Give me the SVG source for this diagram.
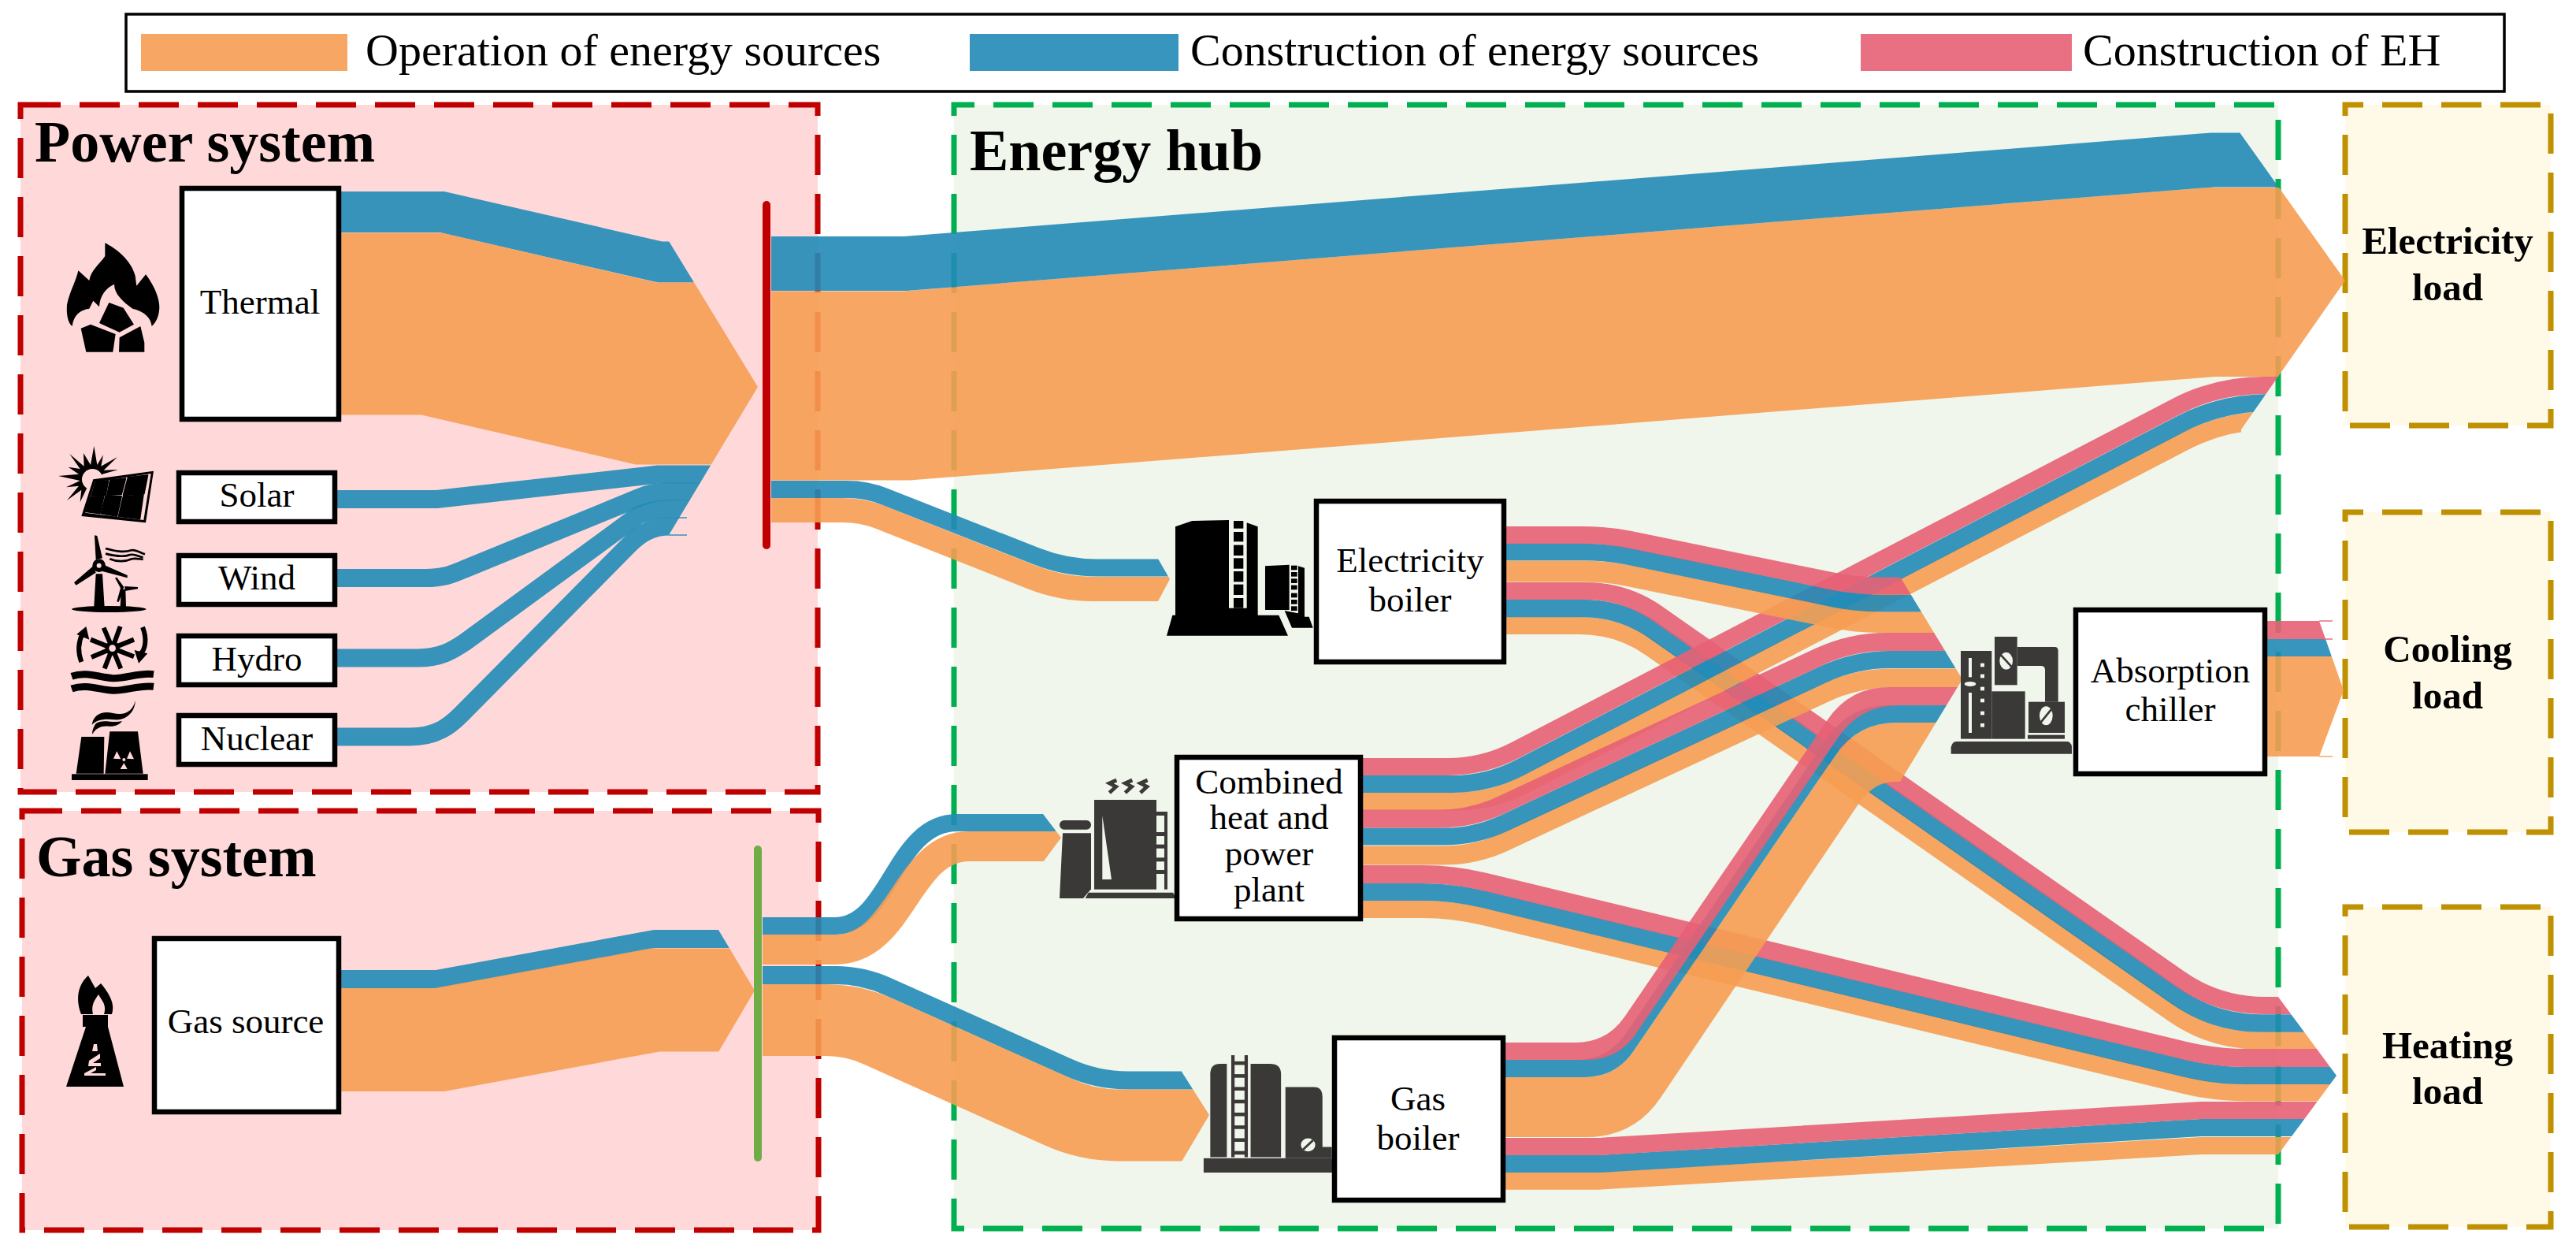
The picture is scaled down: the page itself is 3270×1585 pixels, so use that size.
<svg xmlns="http://www.w3.org/2000/svg" width="3270" height="1585" viewBox="0 0 3270 1585">
<style>
text{font-family:"Liberation Serif","Times New Roman",serif;fill:#000}
.lg{font-size:58px}.n{font-size:45px;text-anchor:middle}.t{font-size:74px;font-weight:bold}.l{font-size:49px;font-weight:bold;text-anchor:middle}
.reg{stroke-width:7;stroke-dasharray:51 24}
.p{fill:#FFD9D9;stroke:#C00000}.h{fill:#F0F6EB;stroke:#00B050;stroke-dashoffset:25}.c{fill:#FFF9E8;stroke:#BF9000;stroke-dashoffset:28}
.box{fill:#fff;stroke:#000;stroke-width:6.5}
.f path,.f polyline{fill:none;opacity:.9}
.or{stroke:#F69D52}.bl{stroke:#228BB7}.pk{stroke:#E76074}
path.fo{fill:#F69D52!important;stroke:none}path.fb{fill:#228BB7!important;stroke:none}path.fp{fill:#E76074!important;stroke:none}
.sw{opacity:.9}
</style>
<defs>
<clipPath id="cPow"><polygon points="0,0 849,0 849,306 962,491 849,679 849,1585 0,1585"/></clipPath>
<clipPath id="cGas"><polygon points="0,0 912,0 912,1180 958,1257 912,1335 912,1585 0,1585"/></clipPath>
<clipPath id="cEB"><polygon points="0,0 1470,0 1470,709 1485,735 1470,763 1470,1585 0,1585"/></clipPath>
<clipPath id="cCHP"><polygon points="0,0 1324,0 1324,1033 1347,1063 1324,1094 1324,1585 0,1585"/></clipPath>
<clipPath id="cGB"><polygon points="0,0 1500,0 1500,1360 1535,1415 1500,1474 1500,1585 0,1585"/></clipPath>
<clipPath id="cEl"><polygon points="0,0 2843,0 2843,168 2977,356 2845,545 2845,1585 0,1585"/></clipPath>
<clipPath id="cAC"><polygon points="0,0 2412,0 2412,732 2491,862 2412,992 2412,1585 0,1585"/></clipPath>
<clipPath id="cCo"><polygon points="0,0 2944,0 2944,788 2975,876 2944,960 2944,1585 0,1585"/></clipPath>
<clipPath id="cHe"><polygon points="0,0 2892,0 2892,1265 2966,1365 2892,1465 2892,1585 0,1585"/></clipPath>
</defs>
<rect width="3270" height="1585" fill="#fff"/>
<g id="legend">
<rect x="160" y="18" width="3019" height="98" fill="#fff" stroke="#000" stroke-width="3.5"/>
<rect class="sw" x="179" y="43" width="262" height="47" fill="#F69D52"/>
<text class="lg" x="464" y="83">Operation of energy sources</text>
<rect class="sw" x="1231" y="43" width="265" height="47" fill="#228BB7"/>
<text class="lg" x="1511" y="83">Construction of energy sources</text>
<rect class="sw" x="2362" y="43" width="268" height="47" fill="#E76074"/>
<text class="lg" x="2644" y="83">Construction of EH</text>
</g>
<g id="regions">
<rect class="reg p" x="26" y="133" width="1012" height="872"/>
<rect class="reg p" x="28" y="1029" width="1011" height="532"/>
<rect class="reg h" x="1211" y="133" width="1681" height="1426"/>
<rect class="reg c" x="2977" y="133" width="261" height="407"/>
<rect class="reg c" x="2977" y="650" width="261" height="406"/>
<rect class="reg c" x="2977" y="1151" width="261" height="406"/>
<text class="t" x="44" y="205">Power system</text>
<text class="t" x="46" y="1112">Gas system</text>
<text class="t" x="1231" y="216">Energy hub</text>
</g>
<g id="connectors" class="f" stroke-linejoin="miter">
<g clip-path="url(#cPow)">
<path class="bl" stroke-width="52" d="M433,269 L561,269 L838,332.5 L1000,332.5"/>
<path class="or" stroke-width="231" d="M433,411 L548,411 L820,474 L1000,474"/>
<path class="bl" stroke-width="23" d="M428,633.5 L555,633.5 L835,602 L1000,602"/>
<path class="bl" stroke-width="23" d="M428,733.5 L540,733.5 C565,733.5 575,728 590,722 L810,632 C820,628 830,624 850,624 L1000,624"/>
<path class="bl" stroke-width="23" d="M428,835 L530,835 C560,835 575,825 590,815 L810,654 C820,650 830,646 850,646 L1000,646"/>
<path class="bl" stroke-width="23" d="M428,935 L520,935 C555,935 572,920 585,907 L800,690 C815,675 830,668 850,668 L1000,668"/>
</g>
<g clip-path="url(#cEl)">
<path class="or" stroke-width="240" d="M979,489.5 L1150,489.5 L2808,358 L3000,358"/>
<path class="bl" stroke-width="69" d="M979,334.5 L1150,334.5 L2808,203 L3000,203"/>
</g>
<g clip-path="url(#cEB)">
<path class="bl" stroke-width="22" d="M979,621 L1075,621 Q1100,621 1123,630.2 L1316,706 Q1353,720.5 1393,720.5 L1490,720.5"/>
<path class="or" stroke-width="31" d="M979,647.5 L1070,647.5 Q1095,647.5 1118,656.7 L1311,733 Q1348,747.5 1388,747.5 L1490,747.5"/>
</g>
<g clip-path="url(#cGas)">
<path class="bl" stroke-width="23" d="M433,1242.5 L554,1242.5 L831,1191.5 L1000,1191.5"/>
<path class="or" stroke-width="131" d="M433,1319.5 L558,1319.5 L831,1269 L1000,1269"/>
</g>
<g clip-path="url(#cCHP)">
<path class="bl" stroke-width="22" d="M968,1175 L1060,1175 C1130,1175 1135,1044 1215,1044 L1340,1044"/>
<path class="or" stroke-width="38" d="M968,1205 L1060,1205 C1145,1205 1150,1074 1230,1074 L1350,1074"/>
</g>
<g clip-path="url(#cGB)">
<path class="bl" stroke-width="23" d="M968,1237.5 L1060,1237.5 Q1095,1237.5 1127,1251.9 L1356,1354.6 Q1392,1371 1432,1371 L1540,1371"/>
<path class="or" stroke-width="91" d="M968,1294.5 L1048,1294.5 Q1083,1294.5 1115,1308.9 L1344,1411.6 Q1380,1428 1420,1428 L1540,1428"/>
</g>
<g clip-path="url(#cHe)">
<path class="or" stroke-width="22" d="M1912,794 L2005,794 Q2055,794 2096,822.7 L2758,1286.1 Q2807,1320.5 2867,1320.5 L2950,1320.5"/>
<path class="bl" stroke-width="22.5" d="M1912,772 L2009,772 Q2059,772 2100,800.7 L2762,1264.1 Q2811,1298.5 2871,1298.5 L2950,1298.5"/>
<path class="pk" stroke-width="22" d="M1912,750 L2013,750 Q2063,750 2104,778.7 L2766,1241.6 Q2815,1276 2875,1276 L2950,1276"/>
<path class="or" stroke-width="22" d="M1730,1154 L1805,1154 Q1845,1154 1884,1163.4 L2773,1377 Q2812,1386.5 2852,1386.5 L2970,1386.5"/>
<path class="bl" stroke-width="22" d="M1730,1132 L1805,1132 Q1845,1132 1884,1141.4 L2773,1355.6 Q2812,1365 2852,1365 L2970,1365"/>
<path class="pk" stroke-width="23" d="M1730,1109.5 L1805,1109.5 Q1845,1109.5 1884,1118.9 L2773,1333.1 Q2812,1342.5 2852,1342.5 L2970,1342.5"/>
<polyline class="or" stroke-width="22" points="1911,1498.7 2030,1498.7 2794,1454 2950,1454"/>
<polyline class="bl" stroke-width="22" points="1911,1477 2030,1477 2794,1431 2950,1431"/>
<polyline class="pk" stroke-width="22" points="1911,1455 2030,1455 2794,1409 2950,1409"/>
</g>
<g clip-path="url(#cEl)">
<path class="or" stroke-width="23" d="M1730,1017 L1849,1017 Q1894,1017 1934,996.3 L2771,561.2 Q2824,533.5 2884,533.5 L2950,533.5"/>
<path class="bl" stroke-width="22" d="M1730,995 L1844,995 Q1889,995 1929,974.3 L2767,538.7 Q2820,511 2880,511 L2950,511"/>
<path class="pk" stroke-width="22" d="M1730,973 L1838,973 Q1883,973 1923,952.3 L2761,516.7 Q2814,489 2874,489 L2950,489"/>
</g>
<g clip-path="url(#cAC)">
<path class="or" stroke-width="27" d="M1912,725 L2010,725 Q2040,725 2069,730.9 L2327,783.6 Q2356,789.5 2386,789.5 L2500,789.5"/>
<path class="bl" stroke-width="21.5" d="M1912,700.5 L2010,700.5 Q2040,700.5 2069,706.4 L2327,759.6 Q2356,765.5 2386,765.5 L2500,765.5"/>
<path class="pk" stroke-width="22" d="M1912,679 L2010,679 Q2040,679 2069,684.9 L2327,737.6 Q2356,743.5 2386,743.5 L2500,743.5"/>
<path class="or" stroke-width="24" d="M1730,1085.5 L1833,1085.5 Q1873,1085.5 1909.3,1068.6 L2316,879.5 Q2357,860.5 2402,860.5 L2500,860.5"/>
<path class="bl" stroke-width="22" d="M1730,1061.5 L1833,1061.5 Q1873,1061.5 1909.3,1044.6 L2314,856 Q2355,837 2400,837 L2500,837"/>
<path class="pk" stroke-width="23" d="M1730,1039 L1828,1039 Q1868,1039 1904.3,1022.1 L2309,833.5 Q2350,814.5 2395,814.5 L2500,814.5"/>
<path class="fo" d="M1911,1367 L2011,1367 Q2051,1367 2073.5,1334 L2330,958.3 Q2358,917 2408,917 L2500,917 L2500,992 L2405,992 Q2378,992 2358,1022 L2108,1393 Q2074,1443 2014,1443 L1911,1443 Z"/>
<path class="fb" d="M1911,1345 L2001,1345 Q2041,1345 2063.5,1312 L2320,936.3 Q2348,895 2398,895 L2500,895 L2500,917 L2408,917 Q2358,917 2330,958.3 L2073.5,1334 Q2051,1367 2011,1367 L1911,1367 Z"/>
<path class="fp" d="M1911,1323 L2000,1323 Q2040,1323 2062.5,1290 L2320,913.3 Q2348,872 2398,872 L2500,872 L2500,895 L2411,895 Q2361,895 2333,936.3 L2076.5,1312 Q2054,1345 2014,1345 L1911,1345 Z"/>
</g>
<g clip-path="url(#cCo)">
<path class="or" stroke-width="127" d="M2877,896.5 L3000,896.5"/>
<path class="bl" stroke-width="22" d="M2877,822 L3000,822"/>
<path class="pk" stroke-width="23" d="M2877,799.5 L3000,799.5"/>
</g>
<path class="bl" stroke-width="1.5" d="M860,657 L872,657 M849,679 L872,679"/>
<path class="pk" stroke-width="1.5" d="M2944,788 L2961,788 M2948,811 L2961,811"/>
<path class="or" stroke-width="1.5" d="M2944,960 L2961,960"/>
</g>
<line id="power-bus" x1="973" y1="260" x2="973" y2="692" stroke="#C00000" stroke-width="10" stroke-linecap="round"/>
<line id="gas-bus" x1="962" y1="1078" x2="962" y2="1469" stroke="#70AD47" stroke-width="10" stroke-linecap="round"/>

<g id="thermal">
<g transform="translate(60,300) scale(.3333)" fill="#000">
<path d="M220,25 C260,45 320,90 335,150 L340,188 L375,145 C410,190 435,250 425,290 C420,320 405,335 398,342 C395,310 370,285 325,275 C290,250 255,220 255,182 C225,195 200,225 198,268 L175,245 L160,275 C125,280 100,300 95,342 C80,330 72,300 75,260 C85,210 110,170 118,130 L160,168 C165,130 200,105 220,75 Z"/>
<polygon points="235,252 290,272 330,335 275,365 198,330"/>
<polygon points="128,350 165,335 260,372 250,440 148,440"/>
<polygon points="275,385 355,342 370,405 370,440 273,440"/>
</g>
<rect class="box" x="231" y="239" width="199" height="293"/><text class="n" x="330" y="398">Thermal</text></g>
<g id="solar">
<g transform="translate(60,300) scale(.3333)">
<polygon fill="#000" points="178,798 190,870 213,832 205,875 267,840 215,890 270,888 210,905 170,960 150,960 125,1012 130,965 75,1005 120,950 72,955 125,930 42,912 120,905 80,878 125,885 85,828 140,875 138,825 165,870"/>
<circle cx="172" cy="925" r="40" fill="#FFD9D9"/>
<polygon fill="#FFD9D9" points="165,920 412,885 382,1098 122,1072"/>
<polygon fill="#000" points="175,925 405,893 375,1090 130,1065"/>
<polygon fill="#FFD9D9" points="182,935 395,903 367,1080 145,1052"/>
<g fill="#000" stroke="#000" stroke-width="6" stroke-linejoin="round">
<polygon points="185,935 232,930 222,985 168,990"/><polygon points="240,928 298,922 282,982 228,985"/><polygon points="308,918 382,910 368,980 290,985"/>
<polygon points="165,995 215,990 200,1055 148,1048"/><polygon points="222,990 282,990 265,1065 205,1055"/><polygon points="290,990 365,985 352,1075 272,1065"/>
</g></g>
<rect class="box" x="227" y="600" width="198" height="62"/><text class="n" x="326" y="643">Solar</text></g>
<g id="wind">
<g transform="translate(80,670) scale(.3333)" fill="#000">
<polygon points="125,175 150,175 158,300 118,300"/>
<polygon points="120,28 130,30 150,115 125,120"/><polygon points="115,145 125,170 50,218 42,208"/><polygon points="155,140 245,180 245,190 150,165"/>
<circle cx="137" cy="143" r="25"/><circle cx="137" cy="143" r="9" fill="#FFD9D9"/>
<ellipse cx="175" cy="309" rx="142" ry="12"/>
<polygon points="222,235 238,235 240,300 218,300"/><polygon points="198,190 205,188 232,225 225,240"/><polygon points="205,280 212,282 232,235 220,225"/><polygon points="235,222 285,225 285,232 235,240"/>
<g fill="none" stroke="#000" stroke-width="8"><path d="M162,78 C200,88 230,95 260,85 C275,80 295,95 312,100"/><path d="M162,98 C200,108 230,112 255,102 C275,98 285,108 305,112"/><path d="M178,118 C205,130 240,128 262,118 C275,114 290,118 305,120"/></g>
</g>
<rect class="box" x="227" y="705" width="198" height="62"/><text class="n" x="326" y="748">Wind</text></g>
<g id="hydro">
<g transform="translate(80,670) scale(.3333)">
<g stroke="#000" stroke-width="18"><line x1="188" y1="458" x2="155" y2="380"/><line x1="188" y1="458" x2="218" y2="375"/><line x1="188" y1="458" x2="270" y2="425"/><line x1="188" y1="458" x2="270" y2="490"/><line x1="188" y1="458" x2="220" y2="535"/><line x1="188" y1="458" x2="158" y2="535"/><line x1="188" y1="458" x2="108" y2="492"/><line x1="188" y1="458" x2="105" y2="425"/></g>
<circle cx="188" cy="458" r="27" fill="#000"/><circle cx="188" cy="458" r="13" fill="#FFD9D9"/>
<path d="M70,510 C55,470 60,430 75,400" fill="none" stroke="#000" stroke-width="18"/><polygon points="52,405 88,375 100,425"/>
<path d="M303,378 C320,420 315,460 295,480" fill="none" stroke="#000" stroke-width="18"/><polygon points="272,465 322,478 288,515"/>
<path d="M33,565 C90,545 140,570 190,572 C240,574 290,550 345,557" fill="none" stroke="#000" stroke-width="27"/>
<path d="M33,612 C90,592 140,617 190,619 C240,621 290,597 345,604" fill="none" stroke="#000" stroke-width="27"/>
</g>
<rect class="box" x="227" y="807" width="198" height="62"/><text class="n" x="326" y="851">Hydro</text></g>
<g id="nuclear">
<g transform="translate(80,670) scale(.3333)" fill="#000">
<polygon points="70,795 157,795 155,935 50,935"/><polygon points="178,775 285,775 305,935 160,935"/><rect x="33" y="937" width="290" height="23"/>
<g fill="#FFD9D9"><polygon points="205,850 220,880 192,878"/><polygon points="255,850 270,880 243,878"/><polygon points="232,895 245,918 218,918"/><circle cx="232" cy="882" r="6"/></g>
<path d="M275,658 C265,700 235,715 190,705 C150,695 115,710 110,750 C125,730 160,725 195,730 C240,735 275,700 275,658Z"/>
<path d="M225,735 C190,745 150,725 125,745 C115,760 110,775 112,785 C125,760 150,752 175,755 C195,757 215,750 225,735Z"/>
</g>
<rect class="box" x="227" y="908" width="198" height="62"/><text class="n" x="326" y="952">Nuclear</text></g>
<g id="gas-source">
<path fill="#000" d="M112,1238 L121,1254 L128,1248 C140,1262 146,1275 142,1287 L132,1287 C136,1275 128,1268 125,1262 C121,1268 115,1275 118,1287 L103,1287 C96,1270 98,1250 112,1238Z"/>
<polygon fill="#000" points="105,1288 137,1288 137,1303 157,1379 84,1379 109,1303 105,1303"/>
<g fill="#FFD9D9"><polygon points="119,1325 123,1325 124,1334 117,1334"/><polygon points="113,1346 127,1337 127,1343 118,1349 128,1349 128,1353 112,1353"/><polygon points="107,1362 122,1354 122,1358 115,1362 134,1362 134,1365 107,1365"/></g>
<rect class="box" x="196" y="1191" width="234" height="220"/><text class="n" x="312" y="1311">Gas source</text></g>
<g id="electricity-boiler">
<g transform="translate(1470,650) scale(.3333)" fill="#000">
<polygon points="66,55 130,33 270,30 270,365 338,365 338,40 380,55 380,392 460,392 495,470 33,470 55,392 66,392"/>
<rect x="288" y="33" width="37" height="29"/><rect x="288" y="75" width="37" height="37"/><rect x="288" y="125" width="37" height="40"/><rect x="288" y="175" width="37" height="40"/><rect x="288" y="225" width="37" height="40"/><rect x="288" y="275" width="37" height="40"/><rect x="288" y="327" width="37" height="38"/>
<polygon points="408,205 500,200 500,372 408,372"/><polygon points="534,205 558,212 558,398 575,398 590,440 510,440 482,375 534,385"/>
<rect x="507" y="203" width="23" height="17"/><rect x="507" y="228" width="23" height="17"/><rect x="507" y="253" width="23" height="17"/><rect x="507" y="278" width="23" height="17"/><rect x="507" y="308" width="23" height="17"/><rect x="507" y="333" width="23" height="17"/><rect x="507" y="358" width="23" height="17"/>
</g>
<rect class="box" x="1671" y="636" width="238" height="204"/><text class="n" x="1790" y="726">Electricity</text><text class="n" x="1790" y="776">boiler</text></g>
<g id="chp">
<g transform="translate(1340,980) scale(.3333)" fill="#3B3838">
<g fill="none" stroke="#3B3838" stroke-width="14"><path d="M232,30 L205,42 L230,55 L205,78"/><path d="M292,30 L265,42 L290,55 L265,78"/><path d="M350,30 L323,42 L348,55 L323,78"/></g>
<rect x="147" y="105" width="237" height="341"/><polygon fill="#F0F6EB" points="178,165 213,408 178,408"/>
<rect x="414" y="150" width="12" height="296"/><rect x="384" y="150" width="42" height="15"/><rect x="384" y="228" width="42" height="15"/><rect x="384" y="275" width="42" height="15"/><rect x="384" y="325" width="42" height="15"/><rect x="384" y="372" width="42" height="15"/>
<rect x="15" y="183" width="120" height="35" rx="17"/><polygon points="27,232 135,232 135,445 105,480 15,480"/><polygon points="125,458 447,458 460,480 113,480"/>
</g>
<rect class="box" x="1494" y="961" width="233" height="205"/><text class="n" x="1611" y="1007">Combined</text><text class="n" x="1611" y="1052">heat and</text><text class="n" x="1611" y="1098">power</text><text class="n" x="1611" y="1144">plant</text></g>
<g id="gas-boiler">
<g transform="translate(1100,550) scale(.7015,.6505)" fill="#3B3838">
<path d="M622,1412 L622,1250 Q622,1230 640,1230 L652,1230 L652,1412Z"/><path d="M695,1230 L730,1230 Q750,1230 750,1250 L750,1412 L695,1412Z"/>
<path d="M758,1275 L810,1275 Q825,1275 825,1295 L825,1392 L842,1392 L842,1414 L758,1414Z"/>
<rect x="660" y="1213" width="6" height="199"/><rect x="684" y="1213" width="6" height="199"/>
<rect x="660" y="1225" width="30" height="7"/><rect x="660" y="1250" width="30" height="7"/><rect x="660" y="1275" width="30" height="7"/><rect x="660" y="1300" width="30" height="7"/><rect x="660" y="1325" width="30" height="7"/><rect x="660" y="1350" width="30" height="7"/><rect x="660" y="1375" width="30" height="7"/><rect x="660" y="1400" width="30" height="7"/>
<rect x="610" y="1414" width="235" height="28"/>
<circle cx="799" cy="1388" r="13" fill="#F0F6EB"/><line x1="790" y1="1397" x2="808" y2="1379" stroke="#3B3838" stroke-width="4"/>
</g>
<rect class="box" x="1694" y="1317" width="214" height="206"/><text class="n" x="1800" y="1409">Gas</text><text class="n" x="1800" y="1459">boiler</text></g>
<g id="absorption-chiller">
<g transform="translate(2470,800) scale(.3333)" fill="#3B3838">
<rect x="57" y="78" width="118" height="335"/><rect x="175" y="232" width="127" height="181"/><rect x="186" y="24" width="86" height="184"/>
<path d="M272,63 L415,63 Q428,63 428,78 L428,272 L378,272 L378,150 Q378,135 362,135 L272,135Z"/>
<rect x="315" y="272" width="138" height="118"/><rect x="312" y="398" width="141" height="15"/>
<path d="M20,470 L20,445 Q25,423 40,423 L460,423 Q475,423 480,440 L480,470Z"/>
<g fill="#F0F6EB"><rect x="87" y="105" width="12" height="73"/><ellipse cx="93" cy="204" rx="22" ry="9"/><rect x="87" y="237" width="12" height="153"/>
<rect x="132" y="125" width="15" height="14"/><rect x="132" y="167" width="15" height="14"/><rect x="132" y="215" width="15" height="14"/><rect x="132" y="260" width="15" height="14"/><rect x="132" y="308" width="15" height="14"/><rect x="132" y="354" width="15" height="14"/>
<ellipse cx="230" cy="116" rx="25" ry="33"/><ellipse cx="382" cy="325" rx="25" ry="36"/></g>
<line x1="208" y1="92" x2="252" y2="140" stroke="#3B3838" stroke-width="8"/><line x1="360" y1="352" x2="404" y2="298" stroke="#3B3838" stroke-width="8"/>
</g>
<rect class="box" x="2635" y="774" width="240" height="208"/><text class="n" x="2755" y="866">Absorption</text><text class="n" x="2755" y="915">chiller</text></g>
<g id="electricity-load"><text class="l" x="3107" y="322">Electricity</text><text class="l" x="3107" y="381">load</text></g>
<g id="cooling-load"><text class="l" x="3107" y="840">Cooling</text><text class="l" x="3107" y="899">load</text></g>
<g id="heating-load"><text class="l" x="3107" y="1343">Heating</text><text class="l" x="3107" y="1401">load</text></g>
</svg>
